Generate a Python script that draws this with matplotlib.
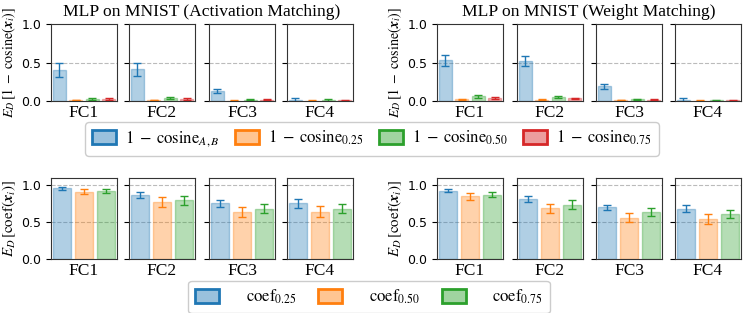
import numpy as np
import matplotlib.pyplot as plt
from matplotlib.patches import Patch
from matplotlib.colors import to_rgba

plt.rcParams['mathtext.fontset'] = 'stix'
plt.rcParams['font.size'] = 9
plt.rcParams['font.serif'] = ['Liberation Serif', 'DejaVu Serif']

layers = ['FC1', 'FC2', 'FC3', 'FC4']
titles = ['MLP on MNIST (Activation Matching)', 'MLP on MNIST (Weight Matching)']

# 1 - cosine, series: A,B / 0.25 / 0.50 / 0.75 ; rows = layers
cos_act = [[0.40, 0.010, 0.030, 0.025],
           [0.41, 0.010, 0.035, 0.025],
           [0.13, 0.005, 0.015, 0.015],
           [0.01, 0.005, 0.010, 0.010]]
cos_act_err = [[0.090, 0.003, 0.015, 0.010],
               [0.085, 0.003, 0.015, 0.010],
               [0.030, 0.002, 0.008, 0.005],
               [0.035, 0.002, 0.012, 0.005]]
cos_wm = [[0.53, 0.020, 0.060, 0.040],
          [0.52, 0.015, 0.050, 0.035],
          [0.19, 0.010, 0.020, 0.015],
          [0.01, 0.005, 0.010, 0.010]]
cos_wm_err = [[0.070, 0.005, 0.020, 0.010],
              [0.070, 0.005, 0.015, 0.010],
              [0.030, 0.003, 0.008, 0.008],
              [0.035, 0.002, 0.008, 0.005]]

# coef, series: 0.25 / 0.50 / 0.75
coef_act = [[0.960, 0.915, 0.925],
            [0.865, 0.775, 0.800],
            [0.755, 0.640, 0.685],
            [0.755, 0.645, 0.685]]
coef_act_err = [[0.020, 0.035, 0.025],
                [0.040, 0.065, 0.060],
                [0.045, 0.065, 0.060],
                [0.065, 0.080, 0.065]]
coef_wm = [[0.930, 0.850, 0.875],
           [0.810, 0.690, 0.740],
           [0.700, 0.560, 0.640],
           [0.685, 0.545, 0.615]]
coef_wm_err = [[0.020, 0.045, 0.035],
               [0.040, 0.060, 0.055],
               [0.040, 0.060, 0.050],
               [0.050, 0.065, 0.055]]

cos_labels = [r'$1\;-\;\mathrm{cosine}_{A,B}$', r'$1\;-\;\mathrm{cosine}_{0.25}$',
              r'$1\;-\;\mathrm{cosine}_{0.50}$', r'$1\;-\;\mathrm{cosine}_{0.75}$']
coef_labels = [r'$\mathrm{coef}_{0.25}$', r'$\mathrm{coef}_{0.50}$', r'$\mathrm{coef}_{0.75}$']
colors = ['C0', 'C1', 'C2', 'C3']

W, H = 744, 313
fig = plt.figure(figsize=(W / 100, H / 100), dpi=100)

lefts = [[51, 129, 209, 287], [437, 517, 596, 675]]
panel_w = 66
title_x = [202, 589]


def add_ax(x, y0, y1):
    return fig.add_axes([x / W, 1 - y1 / H, panel_w / W, (y1 - y0) / H])


def draw_panel(ax, vals, errs, ylim, grid_y):
    n = len(vals)
    for k in range(n):
        ax.bar(k, vals[k], width=0.8, color=colors[k], alpha=0.35,
               edgecolor=colors[k], linewidth=1.0)
        ax.errorbar(k, vals[k], yerr=errs[k], color=colors[k], capsize=3,
                    elinewidth=1.0, capthick=1.0, fmt='none')
    ax.set_xlim(-0.5, n - 0.5)
    ax.set_ylim(*ylim)
    ax.set_xticks([])
    for g in grid_y:
        ax.axhline(g, color='#bbbbbb', ls='--', lw=0.8, zorder=0)
    for s in ax.spines.values():
        s.set_color('#333333')


for g, (cos_v, cos_e, coef_v, coef_e) in enumerate(
        [(cos_act, cos_act_err, coef_act, coef_act_err),
         (cos_wm, cos_wm_err, coef_wm, coef_wm_err)]):
    fig.text(title_x[g] / W, 1 - 12 / H, titles[g], family='serif',
             fontsize=12.6, ha='center', va='center')
    for i, name in enumerate(layers):
        ax = add_ax(lefts[g][i], 24, 101)
        draw_panel(ax, cos_v[i], cos_e[i], (0, 1.0), [0.5])
        ax.set_yticks([0, 0.5, 1.0])
        ax.set_xlabel(name, family='serif', fontsize=12.5, labelpad=3)
        if i == 0:
            ax.set_yticklabels(['0.0', '0.5', '1.0'])
            ax.set_ylabel(r'$E_D\,[1\;-\;\mathrm{cosine}(\boldsymbol{x}_i)]$',
                          fontsize=10.2, labelpad=2)
        else:
            ax.set_yticklabels([])

        ax = add_ax(lefts[g][i], 178, 259)
        draw_panel(ax, coef_v[i], coef_e[i], (0, 1.1), [0.5, 1.0])
        ax.set_yticks([0, 0.5, 1.0])
        ax.set_xlabel(name, family='serif', fontsize=12.5, labelpad=3)
        if i == 0:
            ax.set_yticklabels(['0.0', '0.5', '1.0'])
            ax.set_ylabel(r'$E_D\,[\mathrm{coef}(\boldsymbol{x}_i)]$',
                          fontsize=10.8, labelpad=2)
        else:
            ax.set_yticklabels([])

h1 = [Patch(facecolor=to_rgba(c, 0.45), edgecolor=c, linewidth=2) for c in colors]
fig.legend(h1, cos_labels, loc='center', bbox_to_anchor=(372 / W, 1 - 139 / H),
           ncol=4, fontsize=12, handlelength=1.45, handleheight=0.85,
           columnspacing=0.9, handletextpad=0.55, framealpha=1,
           edgecolor='#cccccc', borderpad=0.4)

h2 = [Patch(facecolor=to_rgba(c, 0.45), edgecolor=c, linewidth=2) for c in colors[:3]]
fig.legend(h2, coef_labels, loc='center', bbox_to_anchor=(369 / W, 1 - 297 / H),
           ncol=3, fontsize=12, handlelength=1.45, handleheight=0.85,
           columnspacing=1.3, handletextpad=1.6, framealpha=1,
           edgecolor='#cccccc', borderpad=0.4)

fig.savefig('out.png', dpi=100)
